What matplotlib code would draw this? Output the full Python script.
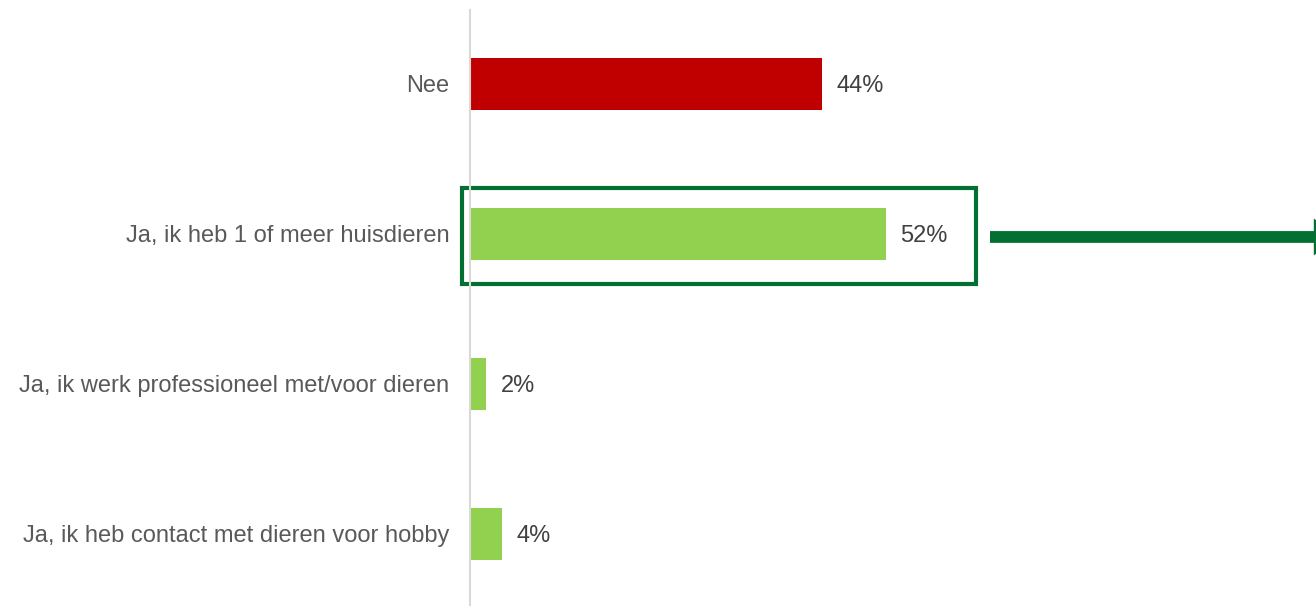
import matplotlib.pyplot as plt
from matplotlib.patches import Rectangle

plt.rcParams['font.family'] = ['Liberation Sans', 'DejaVu Sans']

labels = ["Nee", "Ja, ik heb 1 of meer huisdieren",
          "Ja, ik werk professioneel met/voor dieren",
          "Ja, ik heb contact met dieren voor hobby"]
values = [44, 52, 2, 4]
colors = ["#C00000", "#92D050", "#92D050", "#92D050"]

fig = plt.figure(figsize=(13.16, 6.06), dpi=100)
ax = fig.add_axes([470 / 1316, 0, 846 / 1316, 596 / 606])

ypos = list(range(len(labels)))
ax.barh(ypos, values, height=0.347, color=colors)
for y, v in zip(ypos, values):
    ax.text(v + 1.8, y, f"{v}%", va="center_baseline", ha="left", fontsize=17, color="#404040")

ax.set_xlim(0, 846 / 8)
ax.set_ylim(3.48, -0.493)
ax.set_yticks(ypos)
ax.set_yticklabels(labels, fontsize=17, color="#595959")
ax.tick_params(axis="y", length=0, pad=15)
ax.set_xticks([])
for s in ["top", "right", "bottom"]:
    ax.spines[s].set_visible(False)
ax.spines["left"].set_color("#D9D9D9")
ax.spines["left"].set_linewidth(1.5)

# highlight box around the huisdieren bar
ax.add_patch(Rectangle((-1, 0.693), 64.3, 0.64, fill=False, edgecolor="#037033",
                       linewidth=3, clip_on=False))
ax.annotate("", xy=(108.7, 1.02), xytext=(65, 1.02),
            arrowprops=dict(arrowstyle="-|>,head_length=0.7,head_width=0.5",
                            color="#037033", lw=8.5, shrinkA=0, shrinkB=0,
                            capstyle="butt", joinstyle="miter"),
            annotation_clip=False)

fig.savefig("out.png", dpi=100)
